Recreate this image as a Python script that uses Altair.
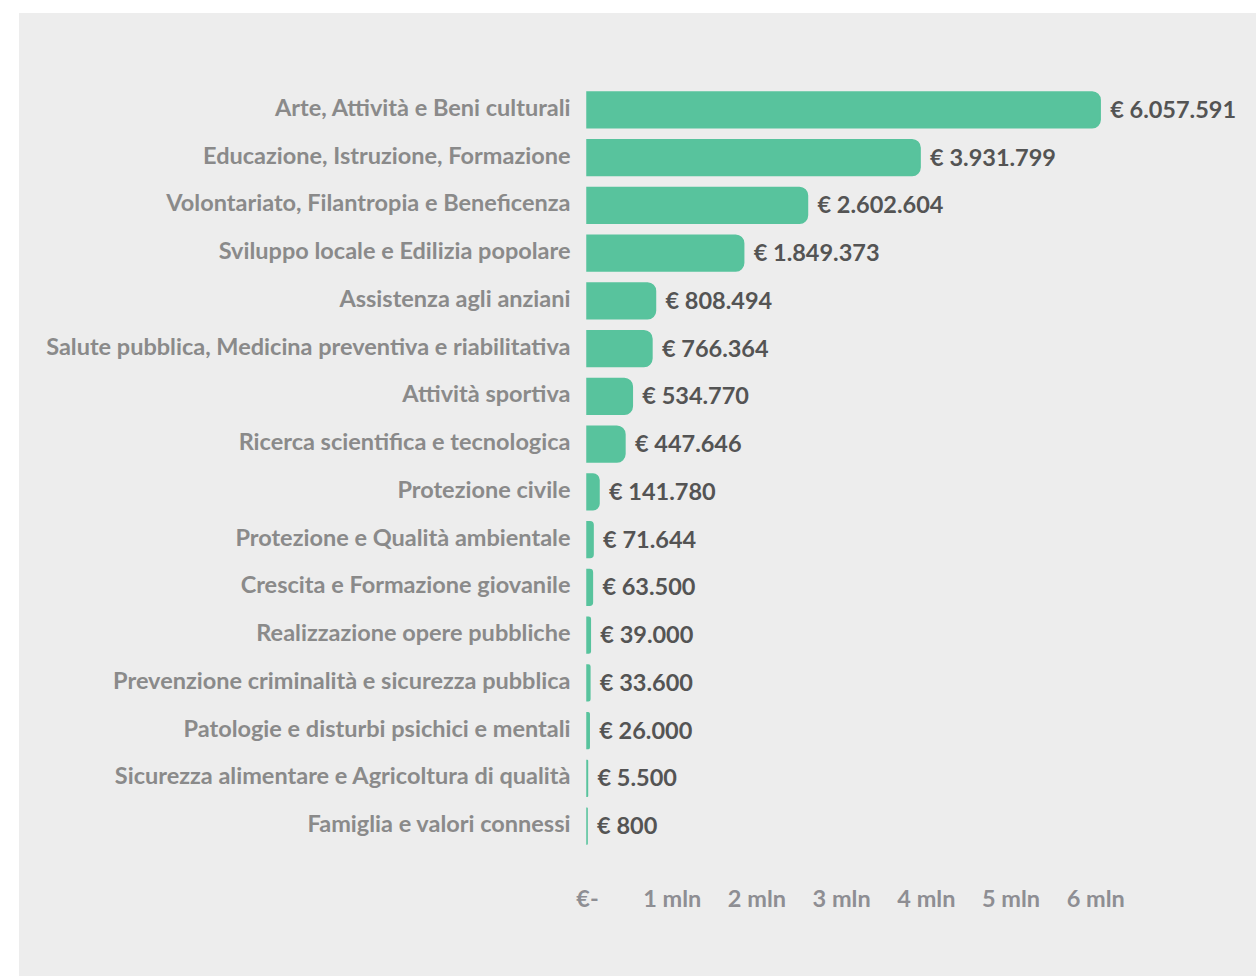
import altair as alt
import pandas as pd

categories = [
    "Arte, Attività e Beni culturali",
    "Educazione, Istruzione, Formazione",
    "Volontariato, Filantropia e Beneficenza",
    "Sviluppo locale e Edilizia popolare",
    "Assistenza agli anziani",
    "Salute pubblica, Medicina preventiva e riabilitativa",
    "Attività sportiva",
    "Ricerca scientifica e tecnologica",
    "Protezione civile",
    "Protezione e Qualità ambientale",
    "Crescita e Formazione giovanile",
    "Realizzazione opere pubbliche",
    "Prevenzione criminalità e sicurezza pubblica",
    "Patologie e disturbi psichici e mentali",
    "Sicurezza alimentare e Agricoltura di qualità",
    "Famiglia e valori connessi",
]
values = [6057591, 3931799, 2602604, 1849373, 808494, 766364, 534770, 447646,
          141780, 71644, 63500, 39000, 33600, 26000, 5500, 800]
tick_values = [0, 1000000, 2000000, 3000000, 4000000, 5000000, 6000000]

df = pd.DataFrame({"cat": categories, "val": values})
df["label"] = ["€ " + f"{v:,}".replace(",", ".") for v in values]

FONT = "Lato"
GREEN = "#58c39d"

# plot area geometry
PL, PT = 587, 86
W, H = 593, 764
TOTAL_W, TOTAL_H = 1256, 976

bg = alt.Chart(pd.DataFrame({"a": [0]})).mark_rect(color="#ededed").encode(
    x=alt.value(19 - PL), x2=alt.value(TOTAL_W - PL),
    y=alt.value(13 - PT), y2=alt.value(TOTAL_H - PT),
)

y_enc = alt.Y("cat:N", sort=categories, title=None,
              scale=alt.Scale(paddingInner=0.25, paddingOuter=0.125),
              axis=alt.Axis(domain=False, ticks=False, labelFont=FONT,
                            labelFontSize=23.5, labelFontWeight="bold",
                            labelColor="#8a8a8a", labelPadding=17,
                            labelOffset=-1, labelLimit=600, zindex=1))
x_enc = alt.X("val:Q", title=None,
              scale=alt.Scale(domain=[0, 7000000], nice=False),
              axis=alt.Axis(values=tick_values, domain=False, ticks=False, grid=False,
                            labelExpr="datum.value == 0 ? '€-' : (datum.value/1000000) + ' mln'",
                            labelFont=FONT, labelFontSize=23.5, labelFontWeight="bold",
                            labelFlush=False,
                            labelColor="#8e8e93", labelPadding=37, zindex=1))

bars = alt.Chart(df).mark_bar(color=GREEN, cornerRadiusEnd=8, stroke=GREEN,
                              strokeWidth=1.5).encode(x=x_enc, y=y_enc)

text = alt.Chart(df).mark_text(align="left", baseline="middle", dx=10, dy=1,
                               font=FONT, fontSize=23.5, fontWeight="bold",
                               color="#545454").encode(
    x="val:Q", y=alt.Y("cat:N", sort=categories), text="label:N")

chart = alt.layer(bg, bars, text).properties(
    width=W, height=H,
    autosize=alt.AutoSizeParams(type="none"),
    padding={"left": PL, "top": PT, "right": TOTAL_W - PL - W, "bottom": TOTAL_H - PT - H},
).configure(background="white").configure_view(stroke=None)

chart.save("out.html", embed_options={"renderer": "svg", "actions": False})
